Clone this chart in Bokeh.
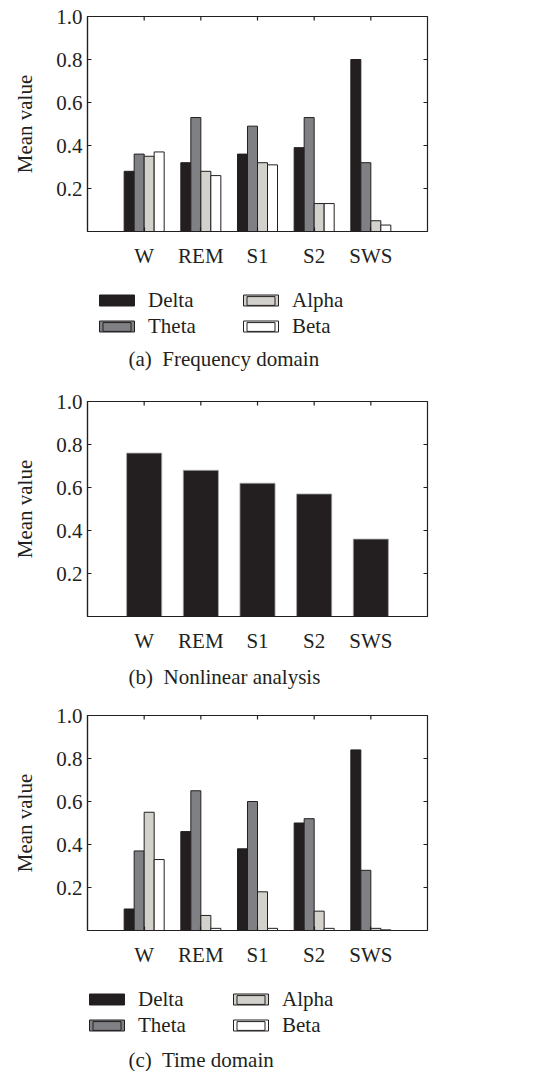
from bokeh.plotting import figure
from bokeh.layouts import column
from bokeh.models import (Range1d, FixedTicker, Legend, LegendItem, Label, PrintfTickFormatter)
from bokeh.embed import file_html
from bokeh.resources import INLINE
import numpy as np

# ---------------- data ----------------
stages = ["W", "REM", "S1", "S2", "SWS"]
bands = ["Delta", "Theta", "Alpha", "Beta"]
freq_delta = [0.28, 0.32, 0.36, 0.39, 0.80]
freq_theta = [0.36, 0.53, 0.49, 0.53, 0.32]
freq_alpha = [0.35, 0.28, 0.32, 0.13, 0.05]
freq_beta = [0.37, 0.26, 0.31, 0.13, 0.03]
nonlinear = [0.76, 0.68, 0.62, 0.57, 0.36]
time_delta = [0.10, 0.46, 0.38, 0.50, 0.84]
time_theta = [0.37, 0.65, 0.60, 0.52, 0.28]
time_alpha = [0.55, 0.07, 0.18, 0.09, 0.01]
time_beta = [0.33, 0.01, 0.01, 0.01, 0.003]
y_ticks = [0.2, 0.4, 0.6, 0.8, 1.0]
y_label = "Mean value"
captions = ["(a)\u00a0 Frequency domain", "(b)\u00a0 Nonlinear analysis", "(c)\u00a0 Time domain"]

# ---------------- style ----------------
FONT = "Liberation Serif"
INK = "#231f20"
FS = "21px"
band_colors = ["#231f20", "#7f8084", "#d3d1cb", "#ffffff"]
W = 536
FRAME_L = 87
FRAME_W = 340
FRAME_H = 215
BOTTOM = 45
BAR_W = 0.1765
offsets = [-1.5 * BAR_W, -0.5 * BAR_W, 0.5 * BAR_W, 1.5 * BAR_W]
pos = np.arange(1, len(stages) + 1)
X_END = len(stages) + 1

# legend geometry (pixels)
GLYPH_W, GLYPH_H, ROW_H, STANDOFF, LABEL_W = 35, 11, 26, 14, 95
COL_W = GLYPH_W + STANDOFF + LABEL_W


def make_fig(bt):
    p = figure(width=W, height=bt + FRAME_H + BOTTOM, x_range=Range1d(0, X_END),
               y_range=Range1d(0, 1),
               output_backend="svg", toolbar_location=None,
               min_border_top=bt, min_border_bottom=BOTTOM, min_border_left=FRAME_L,
               min_border_right=W - FRAME_L - FRAME_W)
    p.grid.visible = False
    p.outline_line_color = INK
    p.outline_line_width = 1.2
    p.background_fill_color = None
    p.border_fill_color = None
    xa = p.xaxis[0]
    ya = p.yaxis[0]
    xa.ticker = FixedTicker(ticks=list(pos))
    xa.major_label_overrides = {int(k): s for k, s in zip(pos, stages)}
    ya.ticker = FixedTicker(ticks=y_ticks)
    ya.formatter = PrintfTickFormatter(format="%.1f")
    for ax in (xa, ya):
        ax.axis_line_color = INK
        ax.axis_line_width = 1.2
        ax.major_tick_line_color = INK
        ax.major_tick_line_width = 1.2
        ax.major_tick_in = 4
        ax.major_tick_out = 0
        ax.minor_tick_line_color = None
        ax.major_label_text_font = FONT
        ax.major_label_text_font_size = FS
        ax.major_label_text_color = INK
    xa.major_label_standoff = 12
    ya.major_label_standoff = 5
    ya.axis_label = y_label
    ya.axis_label_text_font = FONT
    ya.axis_label_text_font_size = FS
    ya.axis_label_text_font_style = "normal"
    ya.axis_label_text_color = INK
    ya.axis_label_standoff = 16
    # inward ticks on the top and right edges (outer half is clipped by the frame)
    p.scatter(x=pos, y=[1] * len(pos), marker="dash", size=8, angle=np.pi / 2,
              line_color=INK, line_width=1.2)
    p.scatter(x=[X_END] * len(y_ticks), y=y_ticks, marker="dash", size=8,
              line_color=INK, line_width=1.2)
    return p


def text_fig(h):
    # frame aligned with the plots above; data units = page pixels
    q = figure(width=W, height=h, x_range=Range1d(FRAME_L, FRAME_L + FRAME_W),
               y_range=Range1d(h, 0),
               output_backend="svg", toolbar_location=None,
               x_axis_location=None, y_axis_location=None,
               min_border_left=FRAME_L, min_border_right=W - FRAME_L - FRAME_W,
               min_border_top=0, min_border_bottom=0)
    q.grid.visible = False
    q.outline_line_color = None
    q.background_fill_color = None
    q.border_fill_color = None
    return q


def caption(q, text, lx, cy):
    q.add_layout(Label(x=lx, y=cy, text=text, text_align="left", text_baseline="middle",
                       text_font=FONT, text_font_size=FS, text_color=INK))


def band_legend(q, h, left, top):
    # legend swatches: one proxy bar per band, lying exactly under its own legend swatch
    proxies = []
    for i, c in enumerate(band_colors):
        col, row = divmod(i, 2)
        cx = left + GLYPH_W / 2 + col * COL_W
        cy = top + ROW_H / 2 + row * ROW_H
        proxies.append(q.vbar(x=[cx], top=[cy - GLYPH_H / 2], bottom=[cy + GLYPH_H / 2],
                              width=GLYPH_W, fill_color=c, line_color=INK, line_width=1))
    items = [LegendItem(label=b, renderers=[r]) for b, r in zip(bands, proxies)]
    leg = Legend(items=items, location=(left - FRAME_L, h - top - 2 * ROW_H), ncols=2,
                 glyph_width=GLYPH_W, glyph_height=GLYPH_H, label_standoff=STANDOFF,
                 spacing=0, padding=0, margin=0, label_height=ROW_H, label_width=LABEL_W,
                 label_text_font=FONT, label_text_font_size=FS, label_text_color=INK,
                 border_line_color=None, background_fill_alpha=0)
    q.add_layout(leg)


def bands_bars(p, series):
    for vals, off, col in zip(series, offsets, band_colors):
        p.vbar(x=pos + off, top=vals, width=BAR_W, bottom=0,
               fill_color=col, line_color=INK, line_width=1)


# (a) frequency domain
pa = make_fig(16)
bands_bars(pa, [freq_delta, freq_theta, freq_alpha, freq_beta])
la = text_fig(102)
band_legend(la, 102, 99, 11)
caption(la, captions[0], 128, 82)

# (b) nonlinear analysis
pb = make_fig(23)
pb.vbar(x=pos, top=nonlinear, width=0.62, bottom=0, fill_color=INK,
        line_color="#a8a8a8", line_width=0.8)
lb = text_fig(39)
caption(lb, captions[1], 128, 15)

# (c) time domain
pc = make_fig(15)
bands_bars(pc, [time_delta, time_theta, time_alpha, time_beta])
lc = text_fig(96)
band_legend(lc, 96, 89, 11)
caption(lc, captions[2], 128, 84)

layout = column(pa, la, pb, lb, pc, lc, spacing=0)
open("out.html", "w").write(file_html(layout, INLINE))
